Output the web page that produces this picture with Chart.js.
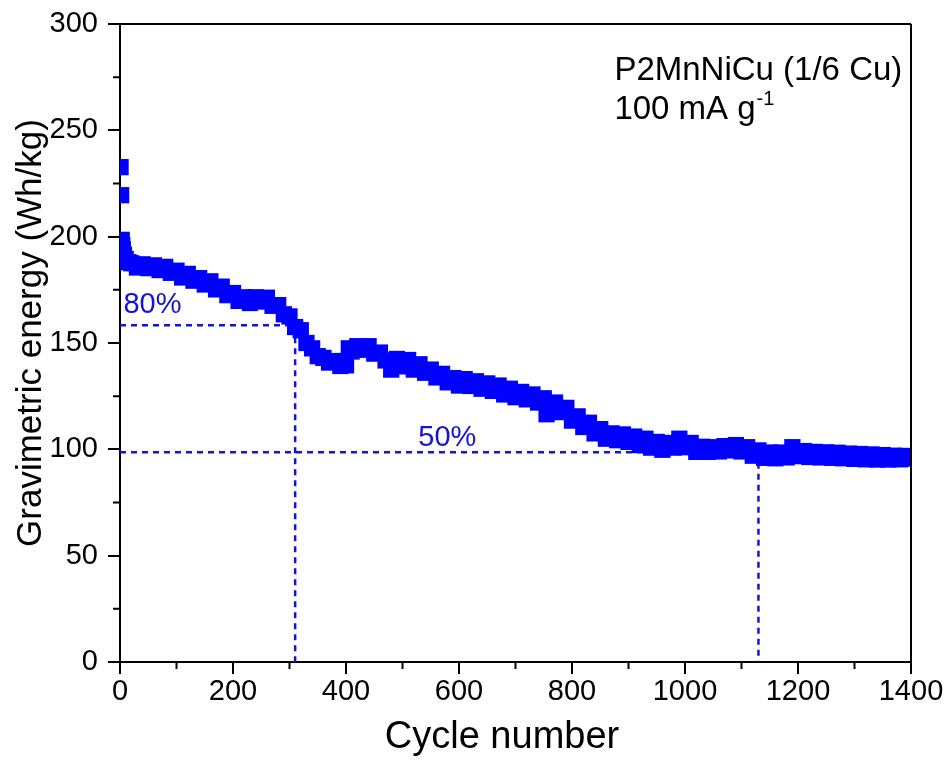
<!DOCTYPE html>
<html>
<head>
<meta charset="utf-8">
<script src="https://cdn.jsdelivr.net/npm/chart.js@4.4.1/dist/chart.umd.min.js"></script>
<style>
  html, body { margin: 0; padding: 0; background: #fff; }
  canvas { display: block; }
</style>
</head>
<body>
<canvas id="grafico" width="946" height="765"></canvas>
<script>
// cicli e energia gravimetrica
const cycles = [
  1, 2, 3, 4, 5, 7, 10, 15, 20, 30, 40, 50, 60, 70, 80, 90,
  100, 110, 120, 130, 140, 150, 160, 170, 180, 190,
  200, 210, 220, 230, 240, 250, 260, 270, 280, 290,
  300, 310, 320, 330, 340, 350, 360, 370, 380, 390, 395,
  400, 405, 410, 420, 430, 440, 450, 460, 470, 480, 490,
  500, 510, 520, 530, 540, 550, 560, 570, 580, 590,
  600, 610, 620, 630, 640, 650, 660, 670, 680, 690,
  700, 710, 720, 730, 740, 750, 755, 760, 770, 780, 790,
  800, 810, 820, 830, 840, 850, 860, 870, 880, 890,
  900, 910, 920, 930, 940, 950, 960, 970, 980, 990,
  1000, 1010, 1020, 1030, 1040, 1050, 1060, 1070, 1080, 1090,
  1100, 1110, 1120, 1130, 1140, 1150, 1160, 1170, 1180, 1190,
  1200, 1210, 1220, 1230, 1240, 1250, 1260, 1270, 1280, 1290,
  1300, 1310, 1320, 1330, 1340, 1350, 1360, 1370, 1380, 1390, 1398
];
const energy = [
  232.7, 219.5, 198.5, 196, 194, 191.5, 189.5, 188, 187.5, 185.5, 187, 185.2, 186.5, 184.3, 185.8, 183,
  184, 180.8, 182.5, 179.3, 180.5, 177.5, 179, 175.2, 176.5, 172.5,
  173.5, 169.8, 171.5, 168.8, 171.5, 169.5, 171.3, 167.5, 167.8, 163.5,
  162.5, 157.5, 156, 150, 147.5, 143.8, 143, 140.8, 141.5, 139.2, 141.5,
  139.5, 147.5, 146, 148.5, 146.8, 148.5, 145, 145.5, 141.8, 137.5, 142.5,
  139, 142, 137.5, 140, 136, 137.5, 133.8, 135.5, 131.5, 133.5,
  130, 133, 129.8, 132, 128.5, 131, 127.5, 130, 125.8, 128.5,
  124.5, 127, 123.5, 125.8, 122, 124, 116.5, 120.5, 122, 117.5, 119.5,
  113.5, 115.5, 110.5, 112.5, 107.5, 109.5, 105, 107.5, 104.3, 107,
  103.5, 106, 102, 105, 100.8, 103.5, 99.8, 103, 100.8, 105,
  101, 103, 98.8, 101.2, 98.8, 101, 99, 101.5, 99.5, 102,
  99, 101, 97, 99.5, 96, 98.5, 95.8, 98.5, 96.2, 101,
  96.8, 99.2, 96.4, 98.8, 96.2, 98.6, 96, 98.4, 95.8, 98,
  95.5, 97.8, 95.3, 97.6, 95.2, 97.3, 95.2, 97, 95.3, 96.9, 95.6
];

// livelli di ritenzione (80% e 50%)
const retentionLabels = ["80%", "50%"];
const retentionLevels = [158.3, 98.6];
const retentionCycles = [310, 1130];

const xTicks = [0, 200, 400, 600, 800, 1000, 1200, 1400];
const yTicks = [0, 50, 100, 150, 200, 250, 300];
const xMinor = [100, 300, 500, 700, 900, 1100, 1300];
const yMinor = [25, 75, 125, 175, 225, 275];

const titoloX = "Cycle number";
const titoloY = "Gravimetric energy (Wh/kg)";
const annotazione = ["P2MnNiCu (1/6 Cu)", "100 mA g", "-1"];

const FONT = "'Liberation Sans', Arial, sans-serif";
const BLU = "#0000ff";
const BLU_TRATTO = "#1414d6";

const punti = cycles.map((c, i) => ({ x: c, y: energy[i] }));

const lineeRitenzione = retentionLevels.map((liv, i) => ({
  type: "line",
  data: [{ x: 0, y: liv }, { x: retentionCycles[i], y: liv }, { x: retentionCycles[i], y: 0 }],
  borderColor: BLU_TRATTO,
  borderWidth: 2.5,
  borderDash: [6, 5],
  pointRadius: 0,
  fill: false,
  tension: 0,
  order: 2
}));

// tacche minori, cornice, titoli degli assi e testi
const decorazioni = {
  id: "decorazioni",
  afterDraw(chart) {
    const ctx = chart.ctx;
    const a = chart.chartArea;
    const xs = chart.scales.x, ys = chart.scales.y;
    ctx.save();
    ctx.strokeStyle = "#000";
    ctx.lineWidth = 2;
    ctx.beginPath();
    ctx.moveTo(a.left, a.top); ctx.lineTo(a.right, a.top);
    ctx.moveTo(a.right, a.top); ctx.lineTo(a.right, a.bottom);
    xMinor.forEach(v => {
      const px = xs.getPixelForValue(v);
      ctx.moveTo(px, a.bottom); ctx.lineTo(px, a.bottom + 7);
    });
    yMinor.forEach(v => {
      const py = ys.getPixelForValue(v);
      ctx.moveTo(a.left, py); ctx.lineTo(a.left - 7, py);
    });
    ctx.stroke();

    // titoli degli assi
    ctx.fillStyle = "#000";
    ctx.textBaseline = "alphabetic";
    ctx.textAlign = "center";
    ctx.font = "38px " + FONT;
    ctx.fillText(titoloX, 502, 748);
    ctx.save();
    ctx.translate(41, 333);
    ctx.rotate(-Math.PI / 2);
    ctx.font = "35px " + FONT;
    ctx.fillText(titoloY, 0, 0);
    ctx.restore();

    // etichette 80% e 50%
    ctx.fillStyle = BLU_TRATTO;
    ctx.font = "29px " + FONT;
    ctx.textAlign = "left";
    ctx.fillText(retentionLabels[0], xs.getPixelForValue(6), ys.getPixelForValue(164.1));
    ctx.fillText(retentionLabels[1], xs.getPixelForValue(528), ys.getPixelForValue(101.6));

    // annotazione in alto a destra
    ctx.fillStyle = "#000";
    ctx.font = "33px " + FONT;
    const x0 = xs.getPixelForValue(875);
    ctx.fillText(annotazione[0], x0, ys.getPixelForValue(273.5));
    const y2 = ys.getPixelForValue(255.2);
    ctx.fillText(annotazione[1], x0, y2);
    const w = ctx.measureText(annotazione[1]).width;
    ctx.font = "20px " + FONT;
    ctx.fillText(annotazione[2], x0 + w + 1, y2 - 14);
    ctx.restore();
  }
};

new Chart(document.getElementById("grafico"), {
  type: "scatter",
  data: {
    datasets: [{
      data: punti,
      pointStyle: "rect",
      pointRadius: 11.5,
      pointHoverRadius: 11.5,
      pointBackgroundColor: BLU,
      pointBorderWidth: 0,
      showLine: false,
      order: 1
    }, ...lineeRitenzione]
  },
  options: {
    responsive: false,
    animation: false,
    events: [],
    layout: { padding: { left: 0, right: 35, top: 24, bottom: 0 } },
    plugins: { legend: { display: false }, tooltip: { enabled: false } },
    scales: {
      x: {
        type: "linear",
        min: 0, max: 1400,
        afterBuildTicks: s => { s.ticks = xTicks.map(v => ({ value: v })); },
        afterFit: s => { s.height = 103; s.paddingLeft = 0; s.paddingRight = 0; },
        border: { display: true, color: "#000", width: 2 },
        grid: { drawOnChartArea: false, drawTicks: true, tickLength: 12, color: "#000", lineWidth: 2 },
        ticks: { color: "#000", font: { family: FONT, size: 29 }, padding: 1, maxRotation: 0, callback: v => String(v) }
      },
      y: {
        type: "linear",
        min: 0, max: 300,
        afterBuildTicks: s => { s.ticks = yTicks.map(v => ({ value: v })); },
        afterFit: s => { s.width = 120; s.paddingTop = 0; s.paddingBottom = 0; },
        border: { display: true, color: "#000", width: 2 },
        grid: { drawOnChartArea: false, drawTicks: true, tickLength: 12, color: "#000", lineWidth: 2 },
        ticks: { color: "#000", font: { family: FONT, size: 29 }, padding: 10, callback: v => String(v) }
      }
    }
  },
  plugins: [decorazioni]
});
</script>
</body>
</html>
